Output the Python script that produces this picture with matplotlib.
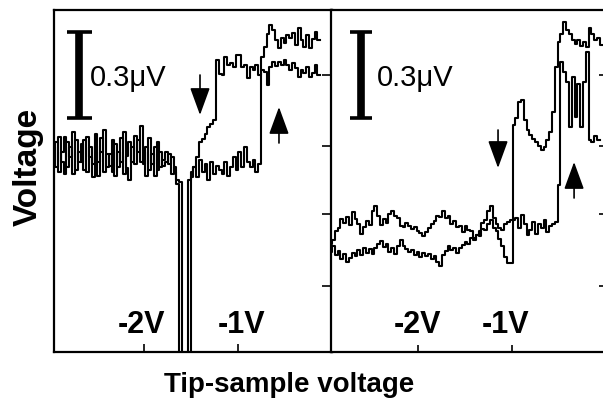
import numpy as np
import matplotlib
matplotlib.use("Agg")
import matplotlib.pyplot as plt

plt.rcParams['font.family'] = ['Liberation Sans', 'DejaVu Sans']

# трассы записаны в единицах, где 86 ед. = 0.3 мкВ (длина масштабной черты)
UNIT = 0.3 / 86
nan = np.nan

# напряжение развертки, В (одна сетка для обеих панелей)
volts = np.linspace(-2.96, -0.02, 99)

# левая панель
left_a = [205, 185, 215, 190, 178, 210, 195, 220, 182, 200,
          190, 212, 180, 205, 188, 218, 176, 200, 222, 185,
          198, 180, 208, 185, 214, 178, 196, 210, 190, 216,
          200, 226, 188, 205, 182, 198, 176, 210, 185, 192,
          200, 188, 195, 180, 168, -60, -60, -60, -60, 175,
          185, 195, 210, 213, 218, 225, 228, 232, 292, 278,
          277, 295, 287, 289, 285, 297, 297, 285, 287, 274,
          285, 282, 287, 277, 282, 280, 267, 285, 290, 286,
          290, 287, 292, 287, 282, 289, 284, 275, 282, 279,
          285, 275, 279, 287, 277, nan, nan, nan, nan]
left_b = [192, 210, 180, 200, 215, 185, 205, 178, 212, 190,
          208, 182, 215, 195, 175, 206, 190, 214, 180, 198,
          186, 212, 176, 200, 190, 220, 184, 172, 205, 188,
          212, 190, 200, 176, 214, 188, 205, 182, 200, 186,
          190, 198, 178, 185, 172, 170, -60, -60, 172, 180,
          185, 175, 192, 180, 188, 172, 190, 178, 186, 182,
          178, 190, 176, 185, 195, 182, 200, 185, 205, 190,
          185, 192, 180, 188, 295, 305, 318, 327, 322, 312,
          304, 314, 309, 317, 314, 319, 307, 324, 312, 305,
          317, 304, 313, 320, 312, nan, nan, nan, nan]

# правая панель
right_c = [104, 100, 106, 97, 101, 93, 98, 90, 94, 99,
           96, 102, 97, 104, 99, 103, 98, 104, 108, 111,
           105, 108, 100, 104, 98, 106, 112, 106, 103, 100,
           102, 97, 100, 95, 99, 96, 98, 93, 96, 90,
           86, 97, 101, 106, 102, 104, 99, 104, 107, 110,
           108, 114, 112, 117, 116, 123, 122, 128, 132, 124,
           121, 113, 106, 95, 89, 89, 227, 234, 250, 252,
           232, 222, 217, 213, 210, 206, 202, 205, 212, 220,
           240, 285, 310, 318, 330, 322, 318, 312, 308, 312,
           306, 310, 305, 324, 318, 312, 314, 307, nan]
right_d = [105, 108, 112, 121, 124, 133, 129, 135, 127, 140,
           133, 128, 118, 125, 131, 127, 141, 146, 136, 127,
           133, 129, 138, 141, 136, 134, 126, 125, 129, 126,
           123, 125, 121, 119, 116, 120, 124, 128, 131, 136,
           135, 141, 134, 136, 128, 131, 125, 126, 120, 126,
           122, 121, 114, 117, 121, 129, 132, 141, 146, 134,
           128, 124, 122, 128, 130, 132, 132, 134, 124, 137,
           128, 117, 122, 130, 118, 128, 124, 132, 120, 126,
           128, 130, 167, 290, 280, 270, 225, 275, 235, 268,
           225, 270, 300, 212, 210, 216, 212, nan, nan]

tick_v = [-2, -1]
tick_labels = ['-2V', '-1V']
ytick_units = [66, 138, 206, 277]

W, H = 603, 408
fig = plt.figure(figsize=(W / 100, H / 100), dpi=100)
axL = fig.add_axes([54 / W, 56 / H, 278 / W, 342 / H])
axR = fig.add_axes([331 / W, 56 / H, 274 / W, 342 / H])

axL.set_xlim(-2.957, 0)
axR.set_xlim(-2.926, -0.011)

for ax, curves in [(axL, [left_a, left_b]), (axR, [right_c, right_d])]:
    for c in curves:
        ax.plot(volts, np.array(c, dtype=float) * UNIT, color='black',
                lw=1.5, drawstyle='steps-mid')
    ax.set_ylim(0, 342 * UNIT)
    ax.set_xticks(tick_v)
    ax.set_xticklabels([])
    ax.set_yticks(np.array(ytick_units) * UNIT)
    ax.set_yticklabels([])
    for s in ax.spines.values():
        s.set_linewidth(1.6)

axL.tick_params(axis='x', direction='in', length=6, width=1.2)
axL.tick_params(axis='y', direction='in', length=7, width=1.2,
                left=False, right=True)
axR.tick_params(axis='x', direction='in', length=5, width=1.2)
axR.tick_params(axis='y', direction='in', length=4, width=1.2,
                left=False, right=True)
axR.spines['right'].set_visible(False)


def scale_bar(ax, x, half):
    y0, y1 = 234 * UNIT, 320 * UNIT
    ax.plot([x, x], [y0, y1], color='black', lw=5.5, solid_capstyle='butt')
    for y in (y0, y1):
        ax.plot([x - half, x + half], [y, y], color='black', lw=2.6,
                solid_capstyle='butt')


scale_bar(axL, -2.691, 0.133)
scale_bar(axR, -2.606, 0.12)
axL.text(-2.574, 274 * UNIT, '0.3\u03bcV', fontsize=21, ha='left', va='center')
axR.text(-2.436, 274 * UNIT, '0.3\u03bcV', fontsize=21, ha='left', va='center')

arrow_style = dict(arrowstyle='-|>,head_length=1.7,head_width=0.62',
                   color='black', lw=1.2, shrinkA=0, shrinkB=0,
                   mutation_scale=10)
# (x, хвост, острие)
for ax, x, tail, tip in [(axL, -1.404, 277, 237), (axL, -0.564, 209, 245),
                         (axR, -1.149, 222, 184), (axR, -0.340, 154, 190)]:
    ax.annotate('', xy=(x, tip * UNIT), xytext=(x, tail * UNIT),
                arrowprops=arrow_style)

for ax, xs in [(axL, [-2.021, -0.957]), (axR, [-2.011, -1.064])]:
    for x, lab in zip(xs, tick_labels):
        ax.text(x, 27 * UNIT, lab, fontsize=22, weight='bold',
                ha='center', va='center')

fig.text(289 / W, 1 - 385 / H, 'Tip-sample voltage', fontsize=20,
         weight='bold', ha='center', va='center')
fig.text(28 / W, 1 - 167 / H, 'Voltage', fontsize=24, weight='bold',
         rotation=90, ha='center', va='center')

fig.savefig('out.png', dpi=100)
